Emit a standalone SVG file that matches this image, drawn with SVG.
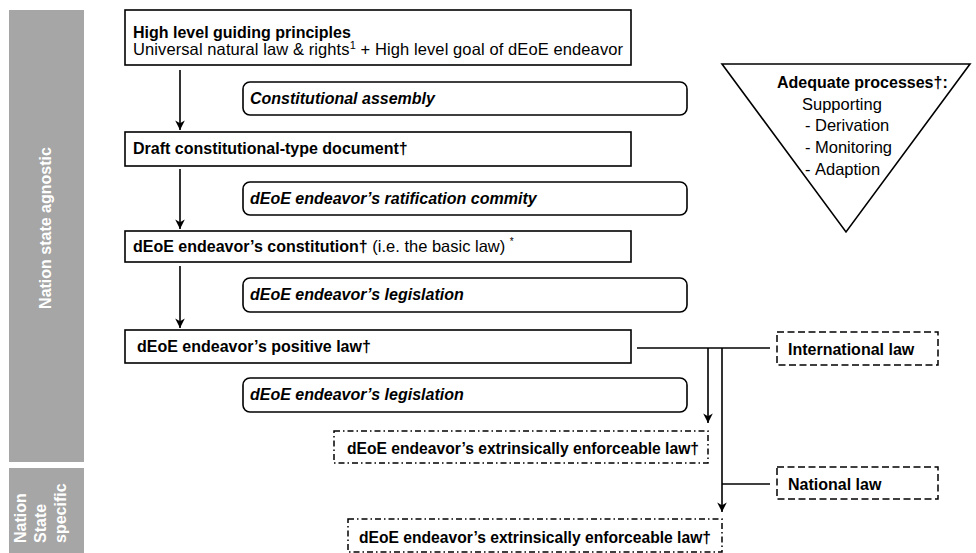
<svg xmlns="http://www.w3.org/2000/svg" width="976" height="553" viewBox="0 0 976 553">
<defs>
<style>
text{font-family:"Liberation Sans",Arial,sans-serif;fill:#000}
.b{font-weight:bold;font-size:16px}
.bi{font-weight:bold;font-style:italic;font-size:16px}
.r{font-size:16.5px}
.box{fill:#fff;stroke:#000;stroke-width:1.6}
.dash{fill:#fff;stroke:#000;stroke-width:1.5;stroke-dasharray:7 3.5}
.dd{fill:#fff;stroke:#000;stroke-width:1.5;stroke-dasharray:6 3 1.5 3}
.bar{fill:#a6a6a6}
.side{fill:#fff;font-weight:bold;font-size:16px}
.c{fill:none;stroke:#000;stroke-width:1.6}
</style>
<marker id="ah" viewBox="0 0 10 10" refX="10" refY="5" markerWidth="6" markerHeight="6" markerUnits="strokeWidth" orient="auto">
<path d="M0,0 L10,5 L0,10 L3,5 z" fill="#000"/>
</marker>
</defs>

<g id="side-agnostic">
<rect class="bar" x="9" y="10" width="75" height="452"/>
<text class="side" transform="translate(51,228) rotate(-90)" text-anchor="middle">Nation state agnostic</text>
</g>
<g id="side-specific">
<rect class="bar" x="9" y="468" width="75" height="85"/>
<text class="side" transform="translate(26,543) rotate(-90)">Nation</text>
<text class="side" transform="translate(46,543) rotate(-90)">State</text>
<text class="side" transform="translate(66,543) rotate(-90)">specific</text>
</g>

<g id="connectors">
<line class="c" x1="180" y1="70" x2="180" y2="130" marker-end="url(#ah)"/>
<line class="c" x1="180" y1="169" x2="180" y2="229" marker-end="url(#ah)"/>
<line class="c" x1="180" y1="266" x2="180" y2="328" marker-end="url(#ah)"/>
<line class="c" x1="637" y1="348" x2="770" y2="348"/>
<line class="c" x1="708" y1="348" x2="708" y2="423" marker-end="url(#ah)"/>
<line class="c" x1="722" y1="348" x2="722" y2="512" marker-end="url(#ah)"/>
<line class="c" x1="722" y1="484" x2="770" y2="484"/>
</g>

<g id="high-level">
<rect class="box" x="125" y="10" width="506" height="55"/>
<text class="b" x="133" y="38">High level guiding principles</text>
<text class="r" x="133" y="55" textLength="490" lengthAdjust="spacing">Universal natural law &amp; rights<tspan font-size="11" dy="-6">1</tspan><tspan dy="6"> + High level goal of dEoE endeavor</tspan></text>
</g>

<g id="constitutional-assembly">
<rect class="box" x="243" y="82" width="444" height="33" rx="7"/>
<text class="bi" x="250" y="104">Constitutional assembly</text>
</g>

<g id="draft">
<rect class="box" x="125" y="132" width="506" height="34"/>
<text class="b" x="133" y="154">Draft constitutional-type document†</text>
</g>

<g id="ratification">
<rect class="box" x="243" y="182" width="444" height="33" rx="7"/>
<text class="bi" x="250" y="204">dEoE endeavor’s ratification commity</text>
</g>

<g id="constitution">
<rect class="box" x="125" y="231" width="506" height="31"/>
<text class="b" x="133" y="252">dEoE endeavor’s constitution†<tspan class="r" font-weight="normal"> (i.e. the basic law) </tspan><tspan font-weight="normal" font-size="10" dy="-7">*</tspan></text>
</g>

<g id="legislation-1">
<rect class="box" x="243" y="278" width="444" height="34" rx="7"/>
<text class="bi" x="250" y="300">dEoE endeavor’s legislation</text>
</g>

<g id="positive-law">
<rect class="box" x="125" y="330" width="506" height="33"/>
<text class="b" x="137" y="352">dEoE endeavor’s positive law†</text>
</g>

<g id="legislation-2">
<rect class="box" x="243" y="378" width="444" height="34" rx="7"/>
<text class="bi" x="250" y="400">dEoE endeavor’s legislation</text>
</g>

<g id="extrinsic-1">
<rect class="dd" x="334" y="431" width="374" height="32"/>
<text class="b" x="347" y="454" textLength="352" lengthAdjust="spacingAndGlyphs">dEoE endeavor’s extrinsically enforceable law†</text>
</g>

<g id="extrinsic-2">
<rect class="dd" x="348" y="519" width="374" height="33"/>
<text class="b" x="359" y="543" textLength="352" lengthAdjust="spacingAndGlyphs">dEoE endeavor’s extrinsically enforceable law†</text>
</g>

<g id="international-law">
<rect class="dash" x="777" y="332" width="161" height="33"/>
<text class="b" x="788" y="355">International law</text>
</g>

<g id="national-law">
<rect class="dash" x="777" y="467" width="161" height="32"/>
<text class="b" x="788" y="490">National law</text>
</g>

<g id="adequate-processes">
<polygon class="box" points="722,64 970,64 846,232"/>
<text class="b" x="777" y="88">Adequate processes†:</text>
<text class="r" x="802" y="110">Supporting</text>
<text class="r" x="805" y="131">-</text><text class="r" x="815" y="131">Derivation</text>
<text class="r" x="805" y="153">-</text><text class="r" x="815" y="153">Monitoring</text>
<text class="r" x="805" y="175">-</text><text class="r" x="815" y="175">Adaption</text>
</g>
</svg>
